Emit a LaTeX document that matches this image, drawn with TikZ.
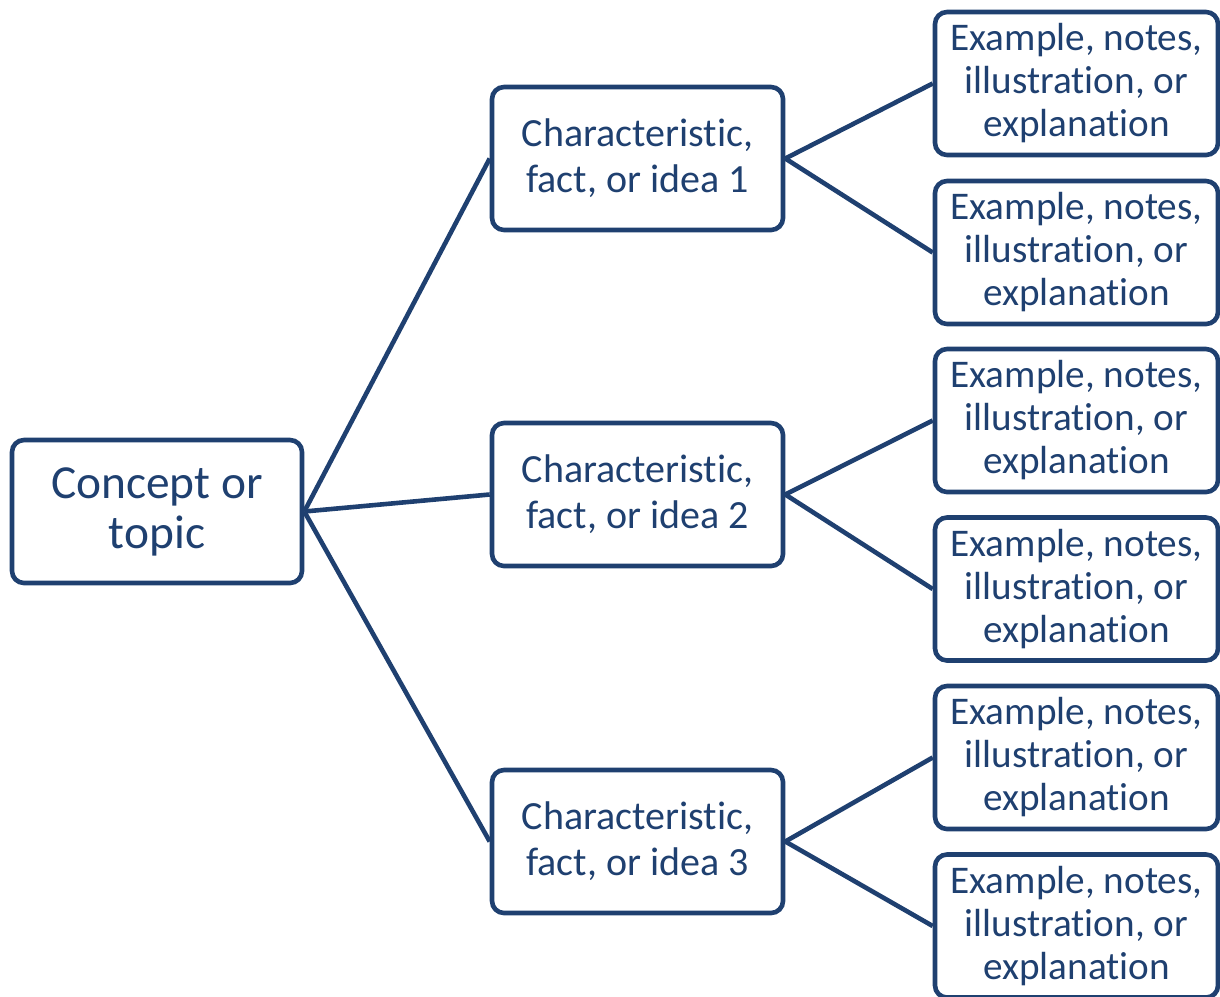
\documentclass[tikz,border=0pt]{standalone}
\usepackage{fontspec}
\setmainfont{Carlito}[Ligatures=NoCommon]
\usepackage{xcolor}
\definecolor{navy}{RGB}{31,64,112}

\begin{document}
\begin{tikzpicture}[x=0.5pt,y=-0.5pt,
  box/.style={draw=navy,line width=2.3pt,rounded corners=6pt,text=navy,align=center,inner sep=0pt},
  rootbox/.style={box,minimum width=145pt,minimum height=71.5pt,font=\fontsize{23.7}{25}\selectfont},
  midbox/.style={box,minimum width=145.5pt,minimum height=71.5pt,font=\fontsize{20}{23}\selectfont},
  leafbox/.style={box,minimum width=141.5pt,minimum height=71.5pt,font=\fontsize{19.6}{21.5}\selectfont},
  link/.style={draw=navy,line width=2.3pt}]
\useasboundingbox (0,0) rectangle (1220,996);
\node[rootbox] (concept) at (157,511.5) {Concept or\\topic};
\node[midbox] (idea1) at (637.5,158.5) {Characteristic,\\fact, or idea 1};
\node[midbox] (idea2) at (637.5,494.5) {Characteristic,\\fact, or idea 2};
\node[midbox] (idea3) at (637.5,841.5) {Characteristic,\\fact, or idea 3};
\node[leafbox] (ex1) at (1076.5,83.5) {Example, notes,\\illustration, or\\explanation};
\node[leafbox] (ex2) at (1076.5,252.5) {Example, notes,\\illustration, or\\explanation};
\node[leafbox] (ex3) at (1076.5,420.5) {Example, notes,\\illustration, or\\explanation};
\node[leafbox] (ex4) at (1076.5,589) {Example, notes,\\illustration, or\\explanation};
\node[leafbox] (ex5) at (1076.5,757.5) {Example, notes,\\illustration, or\\explanation};
\node[leafbox] (ex6) at (1076.5,926) {Example, notes,\\illustration, or\\explanation};
\draw[link] (concept.east) -- (idea1.west);
\draw[link] (concept.east) -- (idea2.west);
\draw[link] (concept.east) -- (idea3.west);
\draw[link] (idea1.east) -- (ex1.west);
\draw[link] (idea1.east) -- (ex2.west);
\draw[link] (idea2.east) -- (ex3.west);
\draw[link] (idea2.east) -- (ex4.west);
\draw[link] (idea3.east) -- (ex5.west);
\draw[link] (idea3.east) -- (ex6.west);
\end{tikzpicture}
\end{document}
